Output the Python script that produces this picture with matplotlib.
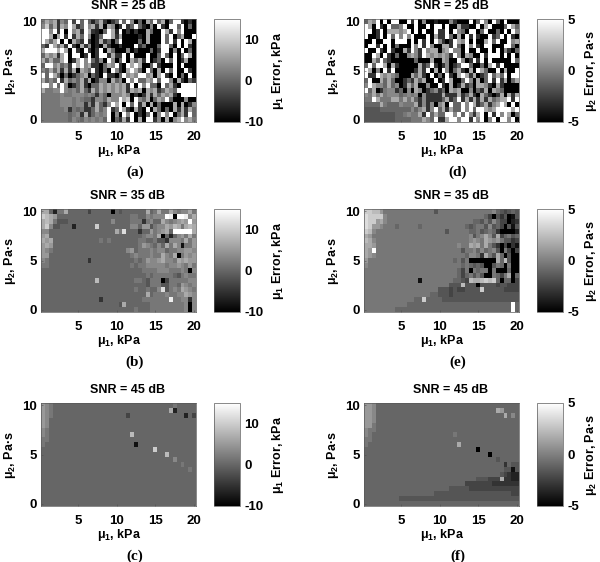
import numpy as np
import matplotlib
matplotlib.use("Agg")
import matplotlib.pyplot as plt

plt.rcParams["font.family"] = "Liberation Sans"
plt.rcParams["font.weight"] = "bold"
plt.rcParams["mathtext.fontset"] = "custom"
plt.rcParams["mathtext.rm"] = "Liberation Sans:bold"
plt.rcParams["mathtext.default"] = "rm"
plt.rcParams["axes.unicode_minus"] = False

# grid of the maps
mu1 = np.arange(0.5, 20.5, 0.5)
mu2 = np.arange(10, -0.5, -0.5)

# top row first, one hex digit per cell
# digit d means a fraction d/15 of the colour scale
snr25_mu1 = [
    "7a8a386f4f" "6f626a3036" "f6f8060a6f" "6a06ff3030",
    "8c6a3a8fa3" "6f8a3a0a80" "3f36f62080" "f30ff6f060",
    "ff8f3f0f8a" "3fa3206fa2" "f030300a60" "0fa3f8f000",
    "ffa0af3f3a" "6f8026ffa3" "a000020a00" "0f6f06a00f",
    "fa6af0f0a6" "3f302a3606" "f000060a00" "0f6f3f0fa0",
    "63fa6a3f30" "a38020a300" "3000f36000" "6ff60f0f30",
    "afffafa0f3" "0f303f0a60" "0080300060" "3ff080f060",
    "6a8a3af0ff" "03f03ff3a3" "3f0f000f00" "6f60f06fa0",
    "a6a66af03a" "f8f6380f80" "6f0a6a3f03" "60f6f03a00",
    "6ff8a683fa" "f8a3306a8f" "30fafa006f" "3000f0f000",
    "86a6a3a3a0" "a86f3060f8" "30afa60f60" "a0f6f00f30",
    "f6fa606036" "8a0630f330" "6f8a8ff8a0" "af30f060f0",
    "a686f3a686" "a3a03880a6" "80f8f66a8f" "6ff80a3063",
    "ff8f6f8036" "a3066a8a8a" "8a3f0f8f66" "0f6a30ffff",
    "a7788f8786" "a63a6a8a8a" "8a3a8a0a8a" "36a86fffff",
    "7777787788" "8787386088" "8a80303a3a" "6a8a30ffff",
    "7777788878" "7663886a88" "fac0f86a06" "a8f6000800",
    "7777788878" "8383a638fa" "f0f6f3a0a0" "6000a0a038",
    "7777778376" "7336a68f36" "fa30a30f0a" "6060a3a3a6",
    "7777777678" "3a36878f08" "0f8f0306f0" "8f8f06a3f6",
    "7777777687" "6878786f06" "3a3f0a0ff3" "80a08af8a7",
]
snr35_mu1 = [
    "aa6277a666" "6646666606" "5666666a67" "a77a8788a7",
    "cba9666666" "6666666666" "6667766878" "88fe0ffe8a",
    "aba7555666" "6666666686" "6667773786" "6a8789a9f9",
    "ac85566626" "6666c66666" "6668869957" "88a9ba7aba",
    "8866666666" "666666666a" "7d66636697" "89a6fffffa",
    "9a66666666" "6666666666" "6666667887" "a0626897a7",
    "a9a6666666" "6666676766" "6666677667" "5538887a79",
    "9a96666666" "6666666666" "6666679876" "86a7a81779",
    "9876666666" "6666666666" "6689677787" "8867788998",
    "9966666666" "6666666666" "6667877787" "7a87a07989",
    "8766666666" "6636666666" "6666767988" "9a887a9a99",
    "7766666666" "6666666666" "6667677888" "8878898797",
    "6666666666" "6666666666" "6666667777" "8887778708",
    "6666666666" "6666666666" "6666666767" "7777657877",
    "6666666666" "6666b66666" "6666776577" "7047777788",
    "6666666666" "6666666666" "6666666577" "7557769878",
    "6666666666" "6666666666" "6666766766" "8d5787a987",
    "6666666666" "6666666666" "6666666a67" "7787788a98",
    "6666666666" "6666636666" "6666667777" "777e778838",
    "6666666666" "6666666666" "5a66666677" "7777777808",
    "6666666666" "6666666666" "6666766677" "7777777808",
]
snr45_mu1 = [
    "9876666666" "6666666666" "6666666666" "6666766666",
    "9876666666" "6666666666" "6666666666" "666a266666",
    "9876666666" "6666666666" "6646666666" "6666666264",
    "9866666666" "6666666666" "6666666666" "6666666666",
    "9866666666" "6666666666" "6666666666" "6666666666",
    "8766666666" "6666666666" "6666666666" "6666666666",
    "8766666666" "6666666666" "666b666666" "6666666666",
    "7766666666" "6666666666" "6666666666" "6666666666",
    "7666666666" "6666666666" "6666166666" "6666666666",
    "6666666666" "6666666666" "666666666c" "6666666666",
    "6666666666" "6666666666" "6666666666" "66b6666666",
    "6666666666" "6666666666" "6666666666" "6666866666",
    "6666666666" "6666666666" "6666666666" "6666667666",
    "6666666666" "6666666666" "6666666666" "6666666676",
    "6666666666" "6666666666" "6666666666" "6666666666",
    "6666666666" "6666666666" "6666666666" "6666666666",
    "6666666666" "6666666666" "6666666666" "6666666666",
    "6666666666" "6666666666" "6666666666" "6666666666",
    "6666666666" "6666666666" "6666666666" "6666666666",
    "6666666666" "6666666666" "6666666666" "6666666666",
    "6666666666" "6666666666" "6666666666" "6666666666",
]
snr25_mu2 = [
    "6a8f0f0ff0" "0f3f080020" "0083000f06" "f80f60f000",
    "fa0f30f668" "f00f00f0ff" "0f00a3300f" "0af0006fa6",
    "ff03f0aaa8" "af0f0f00f3" "3f0f860ff0" "6f0060f0f8",
    "f003f0f6f8" "f8f000f0a3" "3f60a0f3f3" "00f36f0f30",
    "00f00ff0ff" "f0f0f3f0f8" "303fa8f0f0" "0af6f00f8a",
    "0ff3f0f060" "00f8f3f800" "aa3f60f8f3" "0ff000ff60",
    "f00f30f300" "a3f83f8aa0" "8af880f00f" "00f0f08306",
    "00fa0f3060" "08a83fa8a8" "a83f80a800" "f3fff0f0f0",
    "00a6f63000" "0006000a00" "a800f803f3" "f0f00000f6",
    "6f6ffa0a30" "0000a36f30" "38036ff600" "60af3f0000",
    "fa080f3f00" "0003a3f0a0" "f806a30a0f" "a600f0a00f",
    "f33fa8a860" "00a6a30f06" "0f30afa3a0" "36f6a6f0ff",
    "6f00a6a600" "363a6a00f0" "3fa006f80a" "06f3f3a06a",
    "8fa886a680" "3a6a00800f" "30a03a360a" "a830a30000",
    "f6a0378836" "080a803683" "60a8a00806" "3a0a860000",
    "87a7a78886" "7878083333" "a333a36a30" "a6303a0a3a",
    "77fa777aa7" "a7a6383333" "6a36f3a3a3" "a3a68aaf3f",
    "6666a76668" "777a383808" "a0f66f8fa3" "6a38afa0f0",
    "5555666666" "66868a38f6" "a3a66f8f6f" "fa8affffaf",
    "5555555566" "7877a3f6a6" "6ff8f6f83a" "f0f3f8fa06",
    "5555555566" "66777a86f3" "3aff8ff3f8" "f08f0ff8f0",
]
snr35_mu2 = [
    "ccbb977777" "7777777757" "7777777777" "7778654565",
    "dcccc87777" "7777777777" "7777777777" "7640535015",
    "dcc9a87777" "7777777777" "7777777766" "5758644023",
    "dc99877767" "7777677777" "7777776567" "7585640515",
    "cb87777777" "7777777777" "7577777667" "5676300002",
    "a977777777" "7777777777" "7777777857" "8a85a46756",
    "ba87777777" "7777777777" "7777777898" "7a98975534",
    "aa97777777" "7777777777" "7777877a9a" "7a75304031",
    "a9f7777777" "7777777777" "7777757786" "8678507404",
    "a987777777" "7777777777" "7777776887" "3a75a60500",
    "9777777777" "7777777777" "7776757000" "0000a6b500",
    "8777777777" "7777777777" "7777767656" "5005760700",
    "7777777777" "7777777777" "7777647076" "7707000600",
    "7777777777" "7777777777" "7777646757" "5007647a06",
    "7777777777" "7777177777" "7776654baa" "bcbc606604",
    "7777777777" "7777777777" "77555b5550" "5555455444",
    "7777777777" "7777777775" "5545445555" "c555554444",
    "7777777777" "7777777665" "5545555555" "5555555555",
    "7777777777" "77766c6666" "5555555555" "5555555555",
    "7777777777" "7666666666" "6666666666" "66666666f6",
    "7777777766" "6666666666" "6666666666" "66666666f6",
]
snr45_mu2 = [
    "9986666666" "6666666666" "6666666666" "6666666666",
    "9986666666" "6666666666" "6666666666" "6666a96666",
    "9986666666" "6666666666" "6666666666" "666666a686",
    "9986666666" "6666666666" "6666666666" "6666666666",
    "9976666666" "6666666666" "6666666666" "6666666666",
    "8776666666" "6666666666" "6666666666" "6666666666",
    "8766666666" "6666666666" "6667666666" "6666666666",
    "7766666666" "6666666666" "6666666666" "6666666666",
    "7666666666" "6666666666" "6666a66666" "6666666666",
    "6666666666" "6666666666" "6666666660" "6666666666",
    "6666666666" "6666666666" "6666666666" "6606666666",
    "6666666666" "6666666666" "6666666666" "6666566666",
    "6666666666" "6666666666" "6666666666" "6666663655",
    "6666666666" "6666666666" "6666666666" "6666665515",
    "6666666666" "6666666666" "6666666666" "6666654322",
    "6666666666" "6666666666" "6666666665" "55444a3322",
    "6666666666" "6666666666" "6666664444" "4443333333",
    "6666666666" "6666666666" "6655555444" "4444444444",
    "6666666666" "6666666655" "5555555555" "5555555544",
    "6666666665" "5555555555" "5555555555" "5555555555",
    "6666666666" "6666666666" "6666666666" "6666666666",
]

mu1_range = (-10, 15)
mu2_range = (-5, 5)
x_ticks = [5, 10, 15, 20]
y_ticks = [0, 5, 10]
mu1_cbar_ticks = [-10, 0, 10]
mu2_cbar_ticks = [-5, 0, 5]
snr_titles = ["SNR = 25 dB", "SNR = 35 dB", "SNR = 45 dB"]

W, H = 600, 562
fig = plt.figure(figsize=(W / 100, H / 100), dpi=100)


def box(left, top, width, height):
    return [left / W, 1 - (top + height) / H, width / W, height / H]


def label(x, y, s, **kw):
    kw.setdefault("fontsize", 9)
    fig.text(x / W, 1 - y / H, s, ha="center", va="center", **kw)


def panel(left, top, rows, vrange, cticks, name, unit, title, letter, cb_label_x):
    levels = np.array([[int(c, 16) for c in row] for row in rows])
    values = vrange[0] + levels / 15 * (vrange[1] - vrange[0])
    ax = fig.add_axes(box(left, top, 155, 103))
    x_edges = np.append(mu1 - 0.25, mu1[-1] + 0.25)
    y_edges = np.append(mu2 + 0.25, mu2[-1] - 0.25)
    mesh = ax.pcolormesh(x_edges, y_edges, values, cmap="gray",
                         vmin=vrange[0], vmax=vrange[1])
    ax.set_xticks(x_ticks)
    ax.set_yticks(y_ticks)
    ax.tick_params(direction="in", length=1.5, width=0.4, pad=6.5, labelsize=9.5,
                   color="0.3")
    ax.tick_params(axis="y", pad=3)
    for s in ax.spines.values():
        s.set_linewidth(0.5)
        s.set_color("0.35")

    cax = fig.add_axes(box(left + 173, top, 26, 103))
    cb = fig.colorbar(mesh, cax=cax, ticks=cticks)
    cb.ax.tick_params(length=0, pad=3, labelsize=9.5)
    cb.outline.set_linewidth(0.5)
    cb.outline.set_edgecolor("0.35")

    label(left + 78, top + 132, "μ$_1$, kPa")
    label(left + 87, top - 13, title)
    label(left + 94, top + 153, letter, family="Liberation Serif", fontsize=11)
    label(left - 31, top + 52, "μ$_2$, Pa·s", rotation=90)
    label(cb_label_x, top + 52, name + " Error, " + unit, rotation=90)


panel(41, 19, snr25_mu1, mu1_range, mu1_cbar_ticks, "μ$_1$", "kPa", snr_titles[0], "(a)", 278)
panel(41, 209, snr35_mu1, mu1_range, mu1_cbar_ticks, "μ$_1$", "kPa", snr_titles[1], "(b)", 278)
panel(41, 403, snr45_mu1, mu1_range, mu1_cbar_ticks, "μ$_1$", "kPa", snr_titles[2], "(c)", 278)
panel(364, 19, snr25_mu2, mu2_range, mu2_cbar_ticks, "μ$_2$", "Pa·s", snr_titles[0], "(d)", 591)
panel(364, 209, snr35_mu2, mu2_range, mu2_cbar_ticks, "μ$_2$", "Pa·s", snr_titles[1], "(e)", 591)
panel(364, 403, snr45_mu2, mu2_range, mu2_cbar_ticks, "μ$_2$", "Pa·s", snr_titles[2], "(f)", 591)

fig.savefig("out.png", dpi=100)
